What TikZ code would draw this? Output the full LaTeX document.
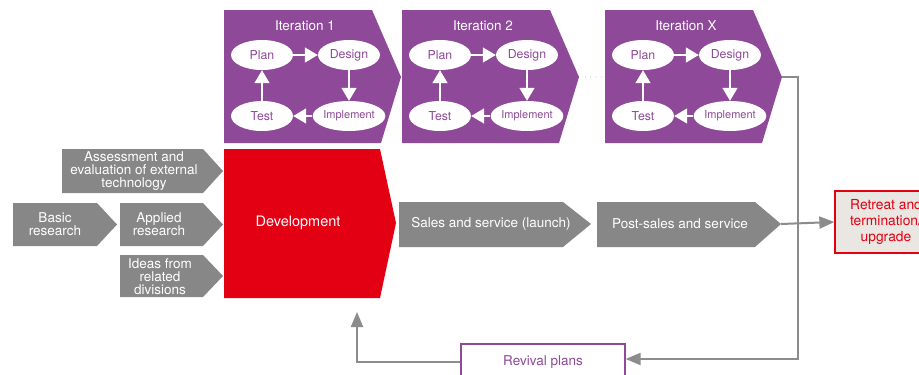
\documentclass[tikz,border=0pt]{standalone}
\usepackage{fontspec}
\setmainfont{TeX Gyre Heros}
\usetikzlibrary{shapes.geometric,arrows.meta}
\definecolor{itpurple}{RGB}{142,73,152}
\definecolor{boxgray}{RGB}{135,135,135}
\definecolor{conngray}{RGB}{140,140,140}
\definecolor{devred}{RGB}{227,0,19}
\definecolor{retfill}{RGB}{234,230,226}
\tikzset{
  iterfill/.style={fill=itpurple},
  grayfill/.style={fill=boxgray},
  ititle/.style={text=white,font=\fontsize{13.5}{14}\selectfont,inner sep=0pt},
  ell/.style={ellipse,fill=white,text=itpurple,minimum width=62pt,minimum height=30pt,inner sep=0pt,font=\fontsize{12.3}{13}\selectfont},
  warrow/.style={draw=white,line width=1.5pt,-{Triangle[width=15pt,length=13pt]}},
  graytext/.style={text=white,align=center,inner sep=0pt,font=\fontsize{13.5}{13}\selectfont},
  conn/.style={draw=conngray,line width=2pt},
  connarrow/.style={conn,-{Triangle[width=12pt,length=15pt]}},
}
\newcommand{\iterblock}[3]{%
\begin{scope}[xshift=#1pt]
\fill[iterfill] (224,10) -- (372,10) -- (401,77) -- (381,143) -- (224,143) -- cycle;
\coordinate (#3tip) at (401,77);
\node[ititle] (#3title) at (305,26) {#2};
\node[ell] (#3plan) at (262,55) {Plan};
\node[ell] (#3design) at (349,55) {Design};
\node[ell] (#3test) at (262,116) {Test};
\node[ell,font=\fontsize{11}{12}\selectfont] (#3impl) at (349,116) {Implement};
\draw[warrow] (#3plan.east) -- (#3design.west);
\draw[warrow] (#3design.south) -- (#3impl.north);
\draw[warrow] (#3impl.west) -- (#3test.east);
\draw[warrow] (#3test.north) -- (#3plan.south);
\end{scope}}
\begin{document}
\begin{tikzpicture}[x=1pt,y=-1pt]
\useasboundingbox (0,0) rectangle (919,375);
\clip (0,0) rectangle (919,375);
\fill[white] (0,0) rectangle (919,375);

% iterations
\iterblock{0}{Iteration 1}{itA}
\iterblock{178}{Iteration 2}{itB}
\iterblock{381}{Iteration X}{itX}
\coordinate (dotsA) at (585,77);
\coordinate (dotsB) at (604,77);
\draw[draw=boxgray!80,line width=1pt,line cap=round,dash pattern=on 0pt off 5.6pt] (dotsA) -- (dotsB);

% gray input boxes
\fill[grayfill] (62,149) -- (203,149) -- (223,171) -- (203,193) -- (62,193) -- cycle;
\node[graytext] (assess) at (134,171) {Assessment and\\evaluation of external\\technology};
\fill[grayfill] (13,203) -- (97,203) -- (117,224.5) -- (97,246) -- (13,246) -- cycle;
\node[graytext] (basic) at (55,224) {Basic\\research};
\fill[grayfill] (120,203) -- (203,203) -- (223,224.5) -- (203,246) -- (120,246) -- cycle;
\node[graytext] (applied) at (159,224) {Applied\\research};
\fill[grayfill] (120,255) -- (203,255) -- (223,276) -- (203,297) -- (120,297) -- cycle;
\node[graytext] (ideas) at (160,277) {Ideas from\\related\\divisions};

% development
\fill[devred] (224,149) -- (380,149) -- (396,223) -- (380,298) -- (224,298) -- cycle;
\node[text=white,inner sep=0pt,font=\fontsize{14.5}{15}\selectfont] (dev) at (298,223) {Development};
\coordinate (devin) at (357,312);

% sales row
\fill[grayfill] (399,202) -- (563,202) -- (591,224) -- (563,247) -- (399,247) -- cycle;
\node[graytext] (sales) at (491,224) {Sales and service (launch)};
\fill[grayfill] (597,202) -- (755,202) -- (781,224) -- (755,247) -- (597,247) -- cycle;
\node[graytext] (post) at (680,224) {Post-sales and service};
\coordinate (posttip) at (781,224);

% retreat box
\node[draw=devred,line width=1.3pt,fill=retfill,text=devred,align=center,minimum width=102pt,minimum height=62pt,inner sep=0pt,font=\fontsize{13.8}{16}\selectfont] (retreat) at (886,222) {Retreat and\\termination/\\upgrade};

% revival box
\node[draw=itpurple,line width=1.2pt,fill=white,text=itpurple,minimum width=164pt,minimum height=36pt,inner sep=0pt,font=\fontsize{13.5}{14}\selectfont] (revival) at (543,362) {Revival plans};

% connectors
\coordinate (vtop) at (798,77);
\draw[connarrow] (itXtip) -- (vtop) |- ([yshift=3pt]revival.east);
\draw[connarrow] (posttip) -- (retreat.west);
\draw[connarrow] (revival.west) -| (devin);
\end{tikzpicture}
\end{document}
